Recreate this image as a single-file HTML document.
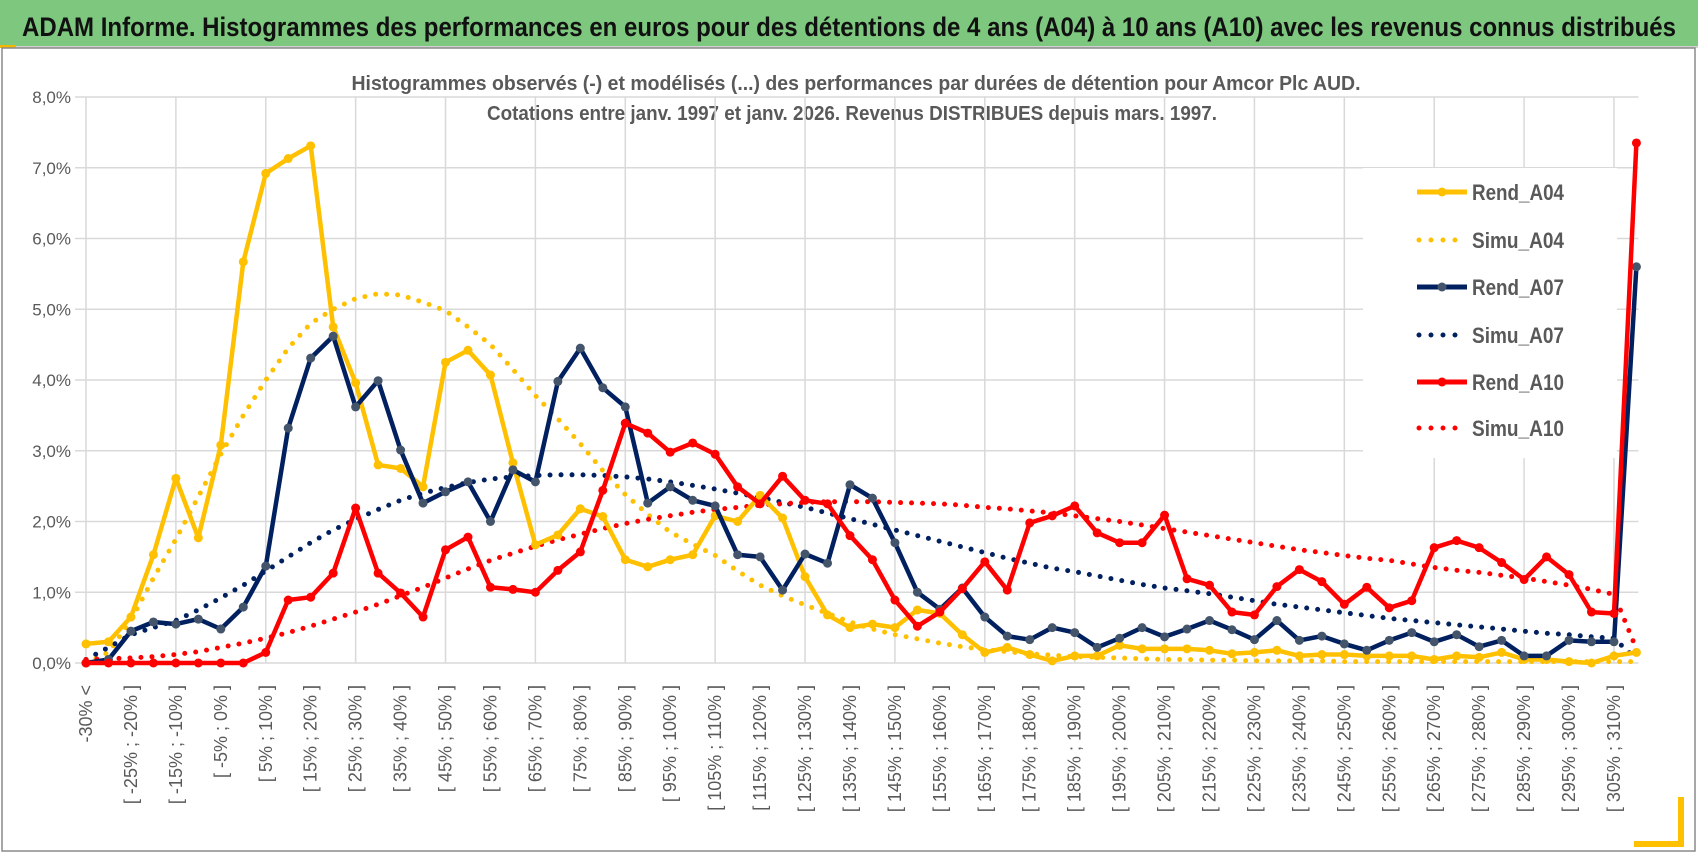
<!DOCTYPE html>
<html><head><meta charset="utf-8"><style>
html,body{margin:0;padding:0;background:#fff}
svg{display:block}
text{font-family:"Liberation Sans Narrow","Liberation Sans",sans-serif}
</style></head><body>
<svg id="chart" width="1698" height="854" viewBox="0 0 1698 854" xmlns="http://www.w3.org/2000/svg">
<rect x="0" y="0" width="1698" height="854" fill="#fff"/>
<rect x="0" y="0" width="1698" height="46" fill="#7DC77E"/>
<rect x="0" y="46" width="1698" height="2" fill="#d0d0d0"/>
<rect x="0" y="45" width="16" height="3" fill="#F0B800"/>
<text x="22" y="36" font-size="27" font-weight="bold" fill="#111" textLength="1654" lengthAdjust="spacingAndGlyphs">ADAM Informe. Histogrammes des performances en euros pour des détentions de 4 ans (A04) à 10 ans (A10) avec les revenus connus distribués</text>
<rect x="2" y="48" width="1693" height="803" fill="none" stroke="#8a8a8a" stroke-width="1.5"/>
<rect x="1678" y="797" width="6" height="50" fill="#FFC000"/>
<rect x="1634" y="841" width="50" height="6" fill="#FFC000"/>
<text x="856" y="90" text-anchor="middle" font-size="20" font-weight="bold" fill="#595959" textLength="1009" lengthAdjust="spacingAndGlyphs">Histogrammes observés (-) et modélisés (...) des performances par durées de détention pour Amcor Plc AUD.</text>
<text x="852" y="120" text-anchor="middle" font-size="20" font-weight="bold" fill="#595959" textLength="730" lengthAdjust="spacingAndGlyphs">Cotations entre janv. 1997 et janv. 2026. Revenus DISTRIBUES depuis mars. 1997.</text>
<g id="grid"></g>
<g id="axes"></g>
<g id="series"></g>
<g id="legend"></g>
</svg>
<script>
const categories = ["-30% <"];
for (let a = -30; a <= 305; a += 5) categories.push("[ " + a + "% ; " + (a + 5) + "% ]");
categories.push("> 310%");
const yTicks = [0,1,2,3,4,5,6,7,8];
const yTickLabels = ["0,0%","1,0%","2,0%","3,0%","4,0%","5,0%","6,0%","7,0%","8,0%"];
const seriesNames = ["Rend_A04","Simu_A04","Rend_A07","Simu_A07","Rend_A10","Simu_A10"];
const rendA04 = [0.27,0.3,0.65,1.53,2.61,1.77,3.08,5.67,6.92,7.13,7.31,4.75,3.96,2.8,2.75,2.49,4.25,4.42,4.07,2.83,1.67,1.81,2.18,2.07,1.46,1.36,1.46,1.53,2.08,2.0,2.37,2.05,1.22,0.68,0.5,0.55,0.5,0.75,0.7,0.4,0.15,0.22,0.12,0.03,0.1,0.1,0.25,0.2,0.2,0.2,0.18,0.13,0.15,0.18,0.1,0.12,0.12,0.1,0.1,0.1,0.05,0.1,0.08,0.15,0.05,0.05,0.02,0.0,0.1,0.15];
const simuA04 = [0.0,0.15,0.6,1.2,1.75,2.35,2.95,3.5,4.0,4.45,4.8,5.0,5.15,5.22,5.2,5.1,4.98,4.75,4.5,4.15,3.78,3.45,3.1,2.72,2.38,2.1,1.85,1.68,1.52,1.3,1.1,0.95,0.82,0.7,0.58,0.48,0.4,0.34,0.28,0.23,0.19,0.16,0.13,0.11,0.09,0.08,0.07,0.06,0.05,0.05,0.04,0.04,0.03,0.03,0.03,0.03,0.02,0.02,0.02,0.02,0.02,0.02,0.02,0.02,0.02,0.02,0.02,0.02,0.02,0.02];
const rendA07 = [0,0.05,0.45,0.58,0.55,0.62,0.48,0.79,1.37,3.32,4.31,4.62,3.62,3.99,3.01,2.26,2.42,2.56,2.0,2.73,2.56,3.98,4.45,3.89,3.62,2.26,2.49,2.3,2.22,1.53,1.5,1.03,1.54,1.41,2.52,2.33,1.7,1.0,0.76,1.06,0.65,0.38,0.33,0.5,0.43,0.22,0.35,0.5,0.37,0.48,0.6,0.47,0.33,0.6,0.32,0.38,0.27,0.18,0.32,0.43,0.3,0.4,0.23,0.32,0.1,0.1,0.32,0.3,0.3,5.6];
const simuA07 = [0.05,0.22,0.4,0.5,0.6,0.75,0.92,1.1,1.3,1.5,1.7,1.88,2.03,2.17,2.3,2.4,2.48,2.55,2.6,2.63,2.65,2.66,2.66,2.65,2.63,2.6,2.56,2.51,2.46,2.4,2.34,2.27,2.2,2.12,2.04,1.96,1.88,1.8,1.72,1.64,1.56,1.48,1.41,1.34,1.29,1.23,1.17,1.11,1.06,1.02,0.98,0.93,0.88,0.83,0.79,0.75,0.71,0.67,0.63,0.6,0.57,0.54,0.51,0.48,0.45,0.42,0.4,0.37,0.35,0.05];
const rendA10 = [0,0,0,0,0,0,0,0,0.15,0.89,0.93,1.27,2.19,1.27,0.99,0.65,1.6,1.78,1.07,1.04,1.0,1.31,1.57,2.44,3.39,3.25,2.98,3.11,2.95,2.49,2.25,2.64,2.3,2.25,1.8,1.46,0.89,0.52,0.72,1.05,1.43,1.03,1.98,2.08,2.22,1.84,1.7,1.7,2.09,1.19,1.1,0.72,0.68,1.08,1.32,1.15,0.83,1.07,0.78,0.88,1.63,1.73,1.63,1.42,1.18,1.5,1.25,0.72,0.7,7.35];
const simuA10 = [0.05,0.06,0.07,0.09,0.12,0.16,0.22,0.28,0.35,0.43,0.52,0.62,0.72,0.83,0.95,1.07,1.2,1.33,1.45,1.55,1.65,1.74,1.82,1.9,1.97,2.03,2.08,2.13,2.17,2.2,2.23,2.25,2.27,2.28,2.28,2.28,2.27,2.26,2.25,2.23,2.2,2.18,2.15,2.12,2.08,2.04,2.0,1.95,1.9,1.85,1.8,1.75,1.7,1.65,1.6,1.56,1.52,1.48,1.45,1.4,1.35,1.31,1.28,1.24,1.2,1.15,1.1,1.04,0.97,0.2];

const NS = "http://www.w3.org/2000/svg";
const X0 = 86, DX = 22.47, Y0 = 663, DY = 70.75;
const xScale = i => X0 + DX * i;
const yScale = v => Y0 - DY * v;
function mk(tag, attrs, parent) {
  const e = document.createElementNS(NS, tag);
  for (const k in attrs) e.setAttribute(k, attrs[k]);
  parent.appendChild(e);
  return e;
}
const grid = document.getElementById('grid');
const axes = document.getElementById('axes');
const series = document.getElementById('series');
const legend = document.getElementById('legend');
const xEnd = xScale(categories.length - 1) + 2;

yTicks.forEach((t, k) => {
  const ln = mk('line', {x1: 75, x2: xEnd, y1: yScale(t), y2: yScale(t), stroke: '#d9d9d9', 'stroke-width': 1.5}, grid);
  
  
  const tx = mk('text', {x: 71, y: yScale(t) + 6, 'text-anchor': 'end', 'font-size': 17, fill: '#595959'}, axes);
  tx.textContent = yTickLabels[k];
  
  
});
for (let i = 0; i < categories.length; i += 4) {
  const ln = mk('line', {x1: xScale(i), x2: xScale(i), y1: yScale(8), y2: Y0, stroke: '#d9d9d9', 'stroke-width': 1.5}, grid);
  
  
}
for (let i = 0; i < categories.length - 1; i += 2) {
  const x = xScale(i) + 6, y = 685;
  const tx = mk('text', {x: x, y: y, 'text-anchor': 'end', 'font-size': 18, fill: '#595959', transform: 'rotate(-90 ' + x + ' ' + y + ')'}, axes);
  tx.textContent = categories[i];
  
  
}

const lbg = mk('rect', {x: 1363, y: 168, width: 254, height: 290, fill: '#fff'}, grid);



const colors = ['#FFC000','#FFC000','#002060','#002060','#FF0000','#FF0000'];
const markerColors = ['#FFC000', null, '#44546A', null, '#FF0000', null];
const data = [rendA04, simuA04, rendA07, simuA07, rendA10, simuA10];
const drawOrder = [1,3,5,0,2,4];
drawOrder.forEach(s => {
  const vals = data[s];
  const pts = vals.map((v, i) => xScale(i).toFixed(1) + ',' + yScale(v).toFixed(1)).join(' ');
  const g = mk('g', {}, series);
  
  
  if (markerColors[s]) {
    mk('polyline', {points: pts, fill: 'none', stroke: colors[s], 'stroke-width': 4.5, 'stroke-linejoin': 'round'}, g);
    vals.forEach((v, i) => {
      const c = mk('circle', {cx: xScale(i), cy: yScale(v), r: 4.5, fill: markerColors[s]}, g);
      
      
    });
  } else {
    mk('polyline', {points: pts, fill: 'none', stroke: colors[s], 'stroke-width': 5, 'stroke-linecap': 'round', 'stroke-dasharray': '0 11'}, g);
  }
});

const legY = [192, 240, 287, 335, 382, 428];
seriesNames.forEach((n, s) => {
  const g = mk('g', {}, legend);
  
  
  const y = legY[s];
  if (markerColors[s]) {
    mk('line', {x1: 1417, x2: 1467, y1: y, y2: y, stroke: colors[s], 'stroke-width': 5}, g);
    mk('circle', {cx: 1442, cy: y, r: 4.5, fill: markerColors[s]}, g);
  } else {
    mk('line', {x1: 1419, x2: 1467, y1: y, y2: y, stroke: colors[s], 'stroke-width': 5, 'stroke-linecap': 'round', 'stroke-dasharray': '0 12'}, g);
  }
  const t = mk('text', {x: 1472, y: y + 8, 'font-size': 22, 'font-weight': 'bold', fill: '#595959', textLength: 92, lengthAdjust: 'spacingAndGlyphs'}, g);
  t.textContent = n;
});
</script>
</body></html>
